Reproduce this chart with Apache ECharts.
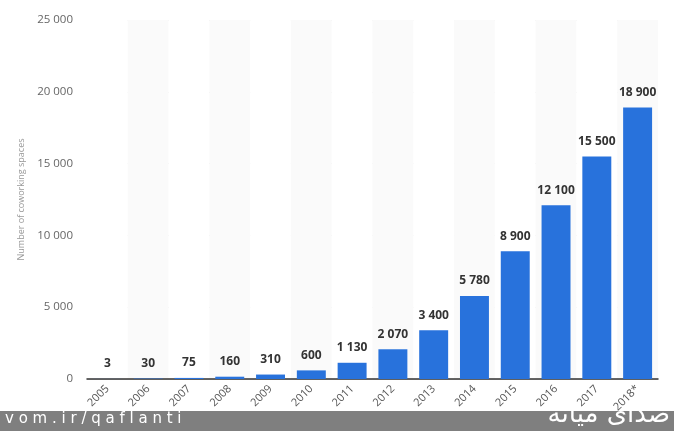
<!DOCTYPE html>
<html>
<head>
<meta charset="utf-8">
<script src="https://cdn.jsdelivr.net/npm/echarts@6/dist/echarts.min.js"></script>
<style>
  html, body { margin: 0; padding: 0; background: #fff; }
  #chart { width: 674px; height: 431px; }
</style>
</head>
<body>
<div id="chart"></div>
<script>
const years = ['2005', '2006', '2007', '2008', '2009', '2010', '2011', '2012', '2013', '2014', '2015', '2016', '2017', '2018*'];
const spaces = [3, 30, 75, 160, 310, 600, 1130, 2070, 3400, 5780, 8900, 12100, 15500, 18900];
const yTicks = [0, 5000, 10000, 15000, 20000, 25000];

// 18900 -> "18 900"
function fmt(v) {
  return String(v).replace(/\B(?=(\d{3})+(?!\d))/g, ' ');
}

const chart = echarts.init(document.getElementById('chart'), null, { renderer: 'canvas' });

chart.setOption({
  animation: false,
  textStyle: { fontFamily: '"Open Sans", "Noto Sans", sans-serif' },
  grid: { left: 87, right: 16, top: 20, bottom: 52, containLabel: false },
  xAxis: {
    type: 'category',
    data: years,
    axisLine: { lineStyle: { color: '#333', width: 1.5 } },
    axisTick: { show: false },
    axisLabel: { rotate: 45, color: '#555', fontSize: 11, margin: 8, interval: 0 },
    splitArea: { show: true, areaStyle: { color: ['#ffffff', '#fafafa'] } }
  },
  yAxis: {
    type: 'value',
    min: yTicks[0],
    max: yTicks[yTicks.length - 1],
    interval: 5000,
    name: 'Number of coworking spaces',
    nameLocation: 'middle',
    nameGap: 58,
    nameTextStyle: { color: '#999', fontSize: 9 },
    axisLine: { show: false },
    axisTick: { show: false },
    axisLabel: { color: '#666', fontSize: 11.5, margin: 14, formatter: fmt },
    splitLine: { lineStyle: { color: '#e6e6e6' } }
  },
  series: [{
    type: 'bar',
    data: spaces,
    barCategoryGap: '29%',
    itemStyle: { color: '#2872dc' },
    label: {
      show: true,
      position: 'top',
      distance: 9,
      color: '#333',
      fontSize: 12,
      fontWeight: 'bold',
      formatter: p => fmt(p.value)
    }
  }],
  graphic: [
    { type: 'rect', left: 0, top: 411, shape: { width: 674, height: 20 }, style: { fill: '#7f7f7f' }, z: 100 },
    { type: 'text', left: 5, top: 412, style: { text: 'v o m . i r / q a f l a n t i', fill: '#fff', font: '15px "DejaVu Sans", sans-serif' }, z: 101 },
    { type: 'text', right: 4, top: 402, style: { text: 'صدای میانه', fill: '#fff', font: '26px "DejaVu Sans", sans-serif' }, z: 101 }
  ]
});
</script>
</body>
</html>
